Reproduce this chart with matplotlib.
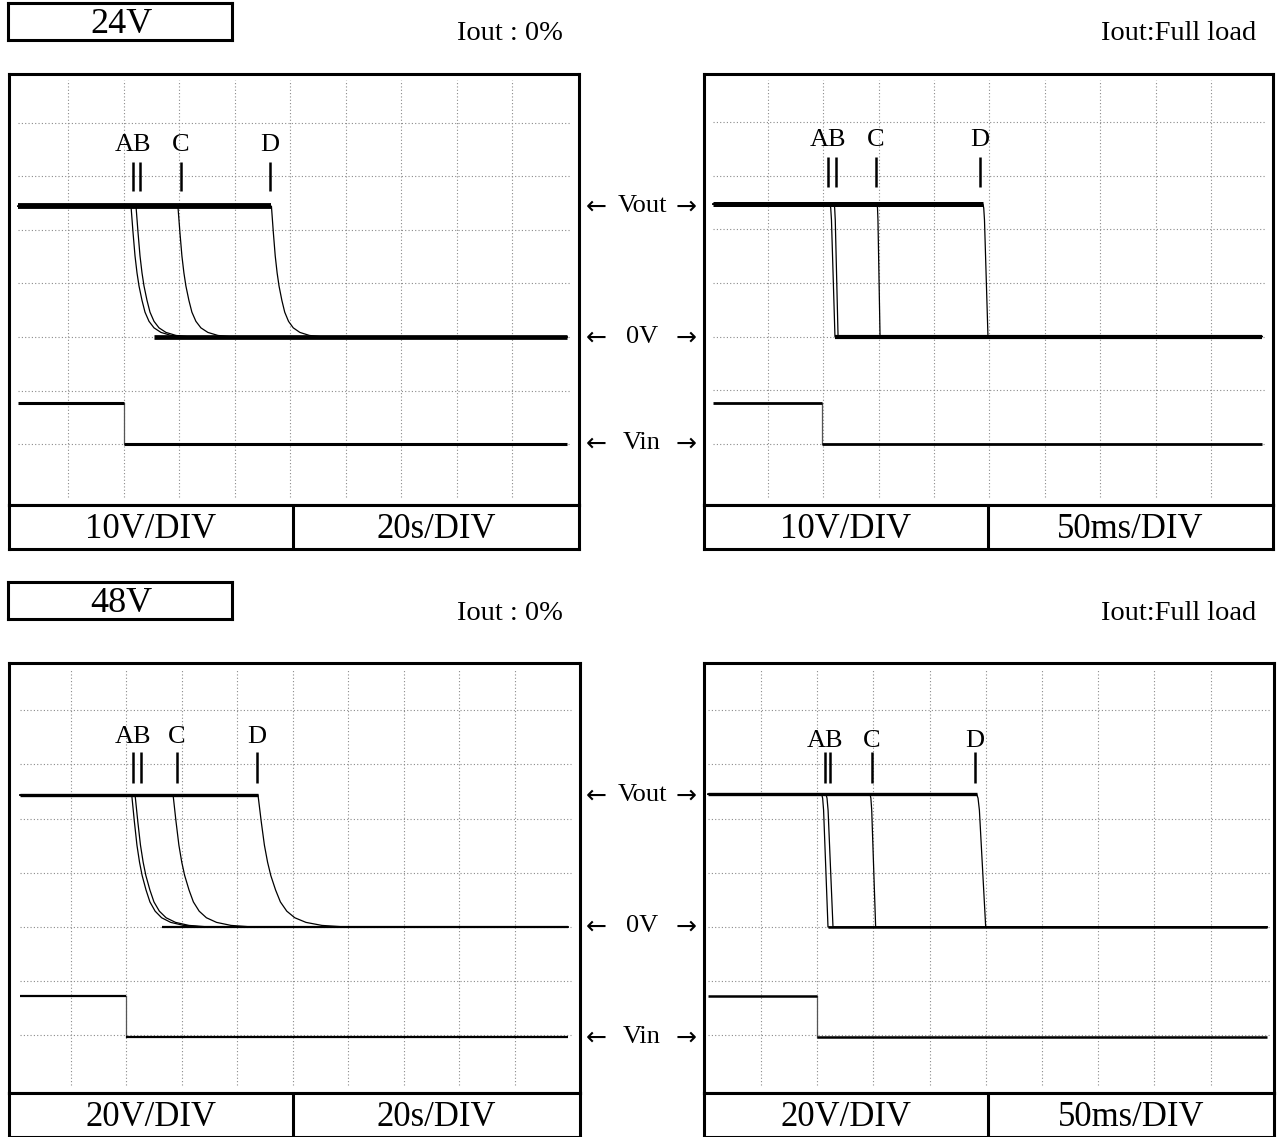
import numpy as np
import matplotlib
matplotlib.use("Agg")
import matplotlib.pyplot as plt

W, H = 1277, 1137
SERIF = ["Liberation Serif", "DejaVu Serif"]
plt.rcParams["font.family"] = SERIF

# ---------------- data ----------------
supply_titles = ["24V", "48V"]
load_titles = ["Iout : 0%", "Iout:Full load"]
volt_div_text = ["10V/DIV", "10V/DIV", "20V/DIV", "20V/DIV"]
time_div_text = ["20s/DIV", "50ms/DIV", "20s/DIV", "50ms/DIV"]
volts_per_div = [10, 10, 20, 20]
secs_per_div = [20, 0.05, 20, 0.05]
trace_names = ["A", "B", "C", "D"]

# output voltage before switch-off (V)
vout_level = [24.4, 24.7, 48.7, 49.0]
# instant the input is removed (s)
vin_off_time = [40.0, 0.099, 40.0, 0.0998]
# displayed input trace levels (div) before / after switch-off
vin_on_div = [-1.23, -1.24, -1.27, -1.27]
vin_off_div = [-2.0, -2.0, -2.03, -2.03]

# instant each output starts to fall (s), traces A..D
fall_start_24_0 = [42.6, 44.4, 59.5, 93.2]
fall_start_24_full = [0.1062, 0.1099, 0.1487, 0.2443]
fall_start_48_0 = [42.0, 43.2, 56.9, 87.5]
fall_start_48_full = [0.1040, 0.1078, 0.1470, 0.2419]

# marker positions above the traces (s)
marker_24_0 = [43.4, 46.0, 60.6, 92.7]
marker_24_full = [0.1044, 0.1116, 0.1477, 0.2416]
marker_48_0 = [42.6, 45.3, 58.2, 87.1]
marker_48_full = [0.1069, 0.1114, 0.1488, 0.2404]

# discharge with no load: time after fall start (div) vs fraction of Vout
noload_t_div = [0, 0.036, 0.072, 0.108, 0.144, 0.198, 0.252, 0.324, 0.414, 0.54, 0.72, 0.99]
noload_frac = [1, 0.80, 0.62, 0.49, 0.39, 0.28, 0.19, 0.12, 0.07, 0.035, 0.012, 0.0]
# time stretch of that shape per trace
noload_stretch_24 = [1.0, 1.0, 1.0, 0.95]
noload_stretch_48 = [1.3, 1.35, 1.45, 1.6]

# discharge at full load: normalised time vs fraction of Vout
fullload_t = [0, 0.15, 0.3, 1.0]
fullload_frac = [1, 0.97, 0.88, 0.0]
# fall duration per trace (div)
fullload_dur_24 = [0.09, 0.072, 0.054, 0.09]
fullload_dur_48 = [0.112, 0.125, 0.10, 0.16]

# ---------------- layout (pixels) ----------------
# frame box, first vertical grid line, division width, 0V line, division
# height, divider of the scale strip, left/right end of the recorded sweep
layouts = [
    dict(x0=8.5, x1=579, y0=74, y1=505, gx=68.3, dx=55.5, gy=337, dy=53.6,
         split=293, r0=18, r1=567),
    dict(x0=704, x1=1273, y0=74, y1=505, gx=767.7, dx=55.4, gy=336.5, dy=53.6,
         split=988, r0=713, r1=1262),
    dict(x0=8.5, x1=580, y0=663, y1=1093, gx=70.7, dx=55.5, gy=927, dy=54.2,
         split=293, r0=20, r1=568),
    dict(x0=704, x1=1274, y0=663, y1=1093, gx=761, dx=56.2, gy=927, dy=54.2,
         split=988, r0=708, r1=1267),
]
strip_h = 44
fall_starts = [fall_start_24_0, fall_start_24_full, fall_start_48_0, fall_start_48_full]
markers = [marker_24_0, marker_24_full, marker_48_0, marker_48_full]
is_full = [False, True, False, True]
stretches = [noload_stretch_24, fullload_dur_24, noload_stretch_48, fullload_dur_48]
band_lw = [(4.2, 3.4, 2.2), (3.6, 3.0, 2.0), (2.4, 1.6, 1.6), (2.4, 1.8, 1.8)]
marker_y = [(2.73, 3.27, 3.58), (2.79, 3.35, 3.67), (2.66, 3.22, 3.51), (2.66, 3.23, 3.44)]

FRAME_LW = 2.2
fig = plt.figure(figsize=(W / 100, H / 100), dpi=100)


def rect(x0, y0, x1, y1):
    return [x0 / W, 1 - y1 / H, (x1 - x0) / W, (y1 - y0) / H]


for i, L in enumerate(layouts):
    ax = fig.add_axes(rect(L["x0"], L["y0"], L["x1"], L["y1"]))
    tpd = secs_per_div[i]

    def px_to_t(p):
        return (1 + (p - L["gx"]) / L["dx"]) * tpd

    xl, xr = px_to_t(L["x0"]), px_to_t(L["x1"])
    t_first, t_last = px_to_t(L["r0"]), px_to_t(L["r1"])
    yb = -(L["y1"] - L["gy"]) / L["dy"]
    yt = (L["gy"] - L["y0"]) / L["dy"]
    ax.set_xlim(xl, xr)
    ax.set_ylim(yb, yt)
    ax.set_xticks([])
    ax.set_yticks([])
    for s in ax.spines.values():
        s.set_linewidth(FRAME_LW)

    # dotted graticule
    hx0 = (L["r0"] - L["x0"]) / (L["x1"] - L["x0"])
    hx1 = (L["r1"] + 3 - L["x0"]) / (L["x1"] - L["x0"])
    for k in range(1, 10):
        ax.axvline(k * tpd, ymin=0.018, ymax=0.985, color="#8a8a8a",
                   lw=0.8, ls=(0, (1, 2)), zorder=1)
    for k in range(-2, 5):
        ax.axhline(k, xmin=hx0, xmax=hx1, color="#8a8a8a",
                   lw=0.8, ls=(0, (1, 2)), zorder=1)

    v = vout_level[i] / volts_per_div[i]
    starts = fall_starts[i]
    lw_out, lw_zero, lw_in = band_lw[i]

    # output traces A..D
    zero_from = None
    for j, t0 in enumerate(starts):
        if is_full[i]:
            dur = stretches[i][j] * tpd
            tt = t0 + np.array(fullload_t) * dur
            ff = np.array(fullload_frac)
        else:
            tt = t0 + np.array(noload_t_div) * stretches[i][j] * tpd
            ff = np.array(noload_frac)
        xs = np.concatenate([[t_first], tt, [t_last]])
        ys = np.concatenate([[v], v * ff, [0]])
        ax.plot(xs, ys, color="black", lw=0.9, zorder=3)
        if j == 0:
            idx = int(np.argmax(ff <= 0.1))
            zero_from = tt[idx]
    # overlapping sweeps make the settled levels look thick
    ax.plot([t_first, max(starts)], [v, v], color="black", lw=lw_out,
            solid_capstyle="butt", zorder=4)
    ax.plot([zero_from, t_last], [0, 0], color="black", lw=lw_zero,
            solid_capstyle="butt", zorder=4)

    # input trace
    toff = vin_off_time[i]
    ax.plot([toff, toff], [vin_on_div[i], vin_off_div[i]], color="#555555",
            lw=0.9, zorder=3)
    ax.plot([t_first, toff], [vin_on_div[i]] * 2, color="black", lw=lw_in,
            solid_capstyle="butt", zorder=4)
    ax.plot([toff, t_last], [vin_off_div[i]] * 2, color="black", lw=lw_in,
            solid_capstyle="butt", zorder=4)

    # A B C D markers
    ylo, yhi, ylab = marker_y[i]
    ax.vlines(markers[i], ylo, yhi, color="black", lw=1.8, zorder=5)
    ax.text(markers[i][0], ylab, "AB", ha="center", va="center", fontsize=19)
    ax.text(markers[i][2], ylab, "C", ha="center", va="center", fontsize=19)
    ax.text(markers[i][3], ylab, "D", ha="center", va="center", fontsize=19)

    # scale strip below the screen
    sx = fig.add_axes(rect(L["x0"], L["y1"], L["x1"], L["y1"] + strip_h))
    sx.set_xlim(L["x0"], L["x1"])
    sx.set_ylim(0, 1)
    sx.set_xticks([])
    sx.set_yticks([])
    for s in sx.spines.values():
        s.set_linewidth(FRAME_LW)
    sx.axvline(L["split"], color="black", lw=FRAME_LW)
    sx.text((L["x0"] + L["split"]) / 2, 0.45, volt_div_text[i],
            ha="center", va="center", fontsize=25)
    sx.text((L["split"] + L["x1"]) / 2, 0.45, time_div_text[i],
            ha="center", va="center", fontsize=25)


def ftext(x, y, s, **kw):
    fig.text(x / W, 1 - y / H, s, **kw)


# header rows
for r, ytop in enumerate([3, 582]):
    box = fig.add_axes(rect(8, ytop, 232, ytop + 37))
    box.set_xticks([])
    box.set_yticks([])
    for s in box.spines.values():
        s.set_linewidth(FRAME_LW)
    ftext(121, ytop + 30, supply_titles[r], ha="center", va="baseline", fontsize=26)
    ftext(510, ytop + 31, load_titles[0], ha="center", va="center", fontsize=20.5)
    ftext(1256, ytop + 31, load_titles[1], ha="right", va="center", fontsize=20.5)

# channel labels between the screens
side_labels = [("Vout", 0), ("0V", 1), ("Vin", 2)]
side_rows = [(206, 337, 443), (795, 926, 1037)]
ARROW_FONT = ["DejaVu Sans"]
for rows in side_rows:
    for name, k in side_labels:
        y = rows[k]
        ftext(596, y + 1, "\u2190", ha="center", va="center", fontsize=18,
              family=ARROW_FONT)
        ftext(642, y, name, ha="center", va="center", fontsize=19)
        ftext(686, y + 1, "\u2192", ha="center", va="center", fontsize=18,
              family=ARROW_FONT)

fig.savefig("out.png", dpi=100)
